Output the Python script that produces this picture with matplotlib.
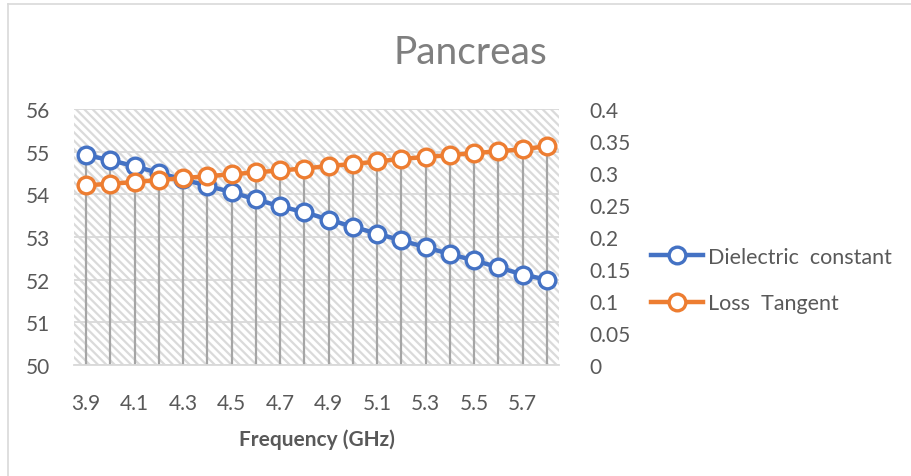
import numpy as np
import matplotlib
matplotlib.use("Agg")
import matplotlib.pyplot as plt
from matplotlib.patches import Rectangle
from matplotlib.lines import Line2D

plt.rcParams['font.family'] = ['Lato', 'DejaVu Sans']
plt.rcParams['hatch.linewidth'] = 1.6

# Measured data
freq = [3.9, 4.0, 4.1, 4.2, 4.3, 4.4, 4.5, 4.6, 4.7, 4.8,
        4.9, 5.0, 5.1, 5.2, 5.3, 5.4, 5.5, 5.6, 5.7, 5.8]
dielectric = [54.92, 54.80, 54.66, 54.50, 54.35, 54.20, 54.05, 53.88, 53.72, 53.58,
              53.41, 53.24, 53.08, 52.92, 52.76, 52.60, 52.45, 52.29, 52.12, 52.00]
loss_tangent = [0.281, 0.283, 0.286, 0.289, 0.292, 0.295, 0.298, 0.301, 0.304, 0.307,
                0.311, 0.314, 0.318, 0.322, 0.325, 0.328, 0.331, 0.334, 0.337, 0.342]
left_ticks = [50, 51, 52, 53, 54, 55, 56]
right_ticks = [0, 0.05, 0.1, 0.15, 0.2, 0.25, 0.3, 0.35, 0.4]
right_labels = ["0", "0.05", "0.1", "0.15", "0.2", "0.25", "0.3", "0.35", "0.4"]

BLUE = "#4472C4"
ORANGE = "#ED7D31"
TXT = "#595959"
GRID = "#d9d9d9"
DROP = "#a5a5a5"
FS = 15

W, H = 912, 477
fig = plt.figure(figsize=(W / 100, H / 100), dpi=100)
fig.patch.set_facecolor("white")

# chart frame (left and top edges)
fig.add_artist(Line2D([8 / W, 8 / W], [0, 1 - 5 / H], transform=fig.transFigure,
                      color=GRID, lw=1.2))
fig.add_artist(Line2D([8 / W, 1], [1 - 5 / H, 1 - 5 / H], transform=fig.transFigure,
                      color=GRID, lw=1.2))

x0, x1, ytop, ybot = 74, 559, 110, 366
ax = fig.add_axes([x0 / W, 1 - ybot / H, (x1 - x0) / W, (ybot - ytop) / H])
ax2 = ax.twinx()

pos = np.arange(len(freq))
ax.set_xlim(-0.5, len(freq) - 0.5)
ax.set_ylim(left_ticks[0], left_ticks[-1])
ax2.set_ylim(right_ticks[0], right_ticks[-1])

# hatched plot-area background
ax.add_patch(Rectangle((0, 0), 1, 1, transform=ax.transAxes, facecolor="white",
                       edgecolor="none", zorder=0))
ax.add_patch(Rectangle((0, 0), 1, 1, transform=ax.transAxes, facecolor="none",
                       edgecolor="#dadada", linewidth=0, hatch="\\\\\\\\", zorder=0.5))

ax.set_yticks(left_ticks)
ax.yaxis.grid(True, color=GRID, lw=1.3, zorder=1)
ax.set_axisbelow(True)

# drop lines from the upper point of each category to the floor
loss_in_left = ax.transData.inverted().transform(
    ax2.transData.transform(np.column_stack([pos, loss_tangent])))[:, 1]
tops = np.maximum(np.array(dielectric), loss_in_left)
ax.vlines(pos, left_ticks[0], tops, color=DROP, lw=1.6, zorder=2)

mk = dict(marker="o", markersize=12, markerfacecolor="white", markeredgewidth=2.4)
ax.plot(pos, dielectric, color=BLUE, lw=3.2, markeredgecolor=BLUE, zorder=3, **mk)
ax2.plot(pos, loss_tangent, color=ORANGE, lw=3.2, markeredgecolor=ORANGE, zorder=3, **mk)

ax.set_xticks(pos[::2])
ax.set_xticklabels([f"{f:.1f}" for f in freq[::2]])
ax2.set_yticks(right_ticks)
ax2.set_yticklabels(right_labels)

for a in (ax, ax2):
    for s in a.spines.values():
        s.set_visible(False)
    a.tick_params(length=0, labelsize=FS, labelcolor=TXT)
ax.spines["bottom"].set_visible(True)
ax.spines["bottom"].set_color(GRID)
ax.spines["bottom"].set_linewidth(1.3)
ax.tick_params(axis="y", pad=17)
ax.tick_params(axis="x", pad=20)
ax2.tick_params(axis="y", pad=22)

ax.set_xlabel("Frequency (GHz)", fontsize=FS, fontweight="bold", color=TXT, labelpad=11)

fig.text(470 / W, 1 - 53 / H, "Pancreas", fontsize=28, color="#7f7f7f",
         ha="center", va="center")

handles = [
    Line2D([], [], color=BLUE, lw=3.2, markeredgecolor=BLUE, **mk),
    Line2D([], [], color=ORANGE, lw=3.2, markeredgecolor=ORANGE, **mk),
]
fig.legend(handles, ["Dielectric  constant", "Loss  Tangent"], loc="center left",
           bbox_to_anchor=(651 / W, 1 - 281 / H), frameon=False, fontsize=15.5,
           labelcolor=TXT, handlelength=2.4, handletextpad=0.25, labelspacing=1.25,
           borderpad=0, borderaxespad=0)

fig.savefig("out.png", dpi=100, facecolor="white")
